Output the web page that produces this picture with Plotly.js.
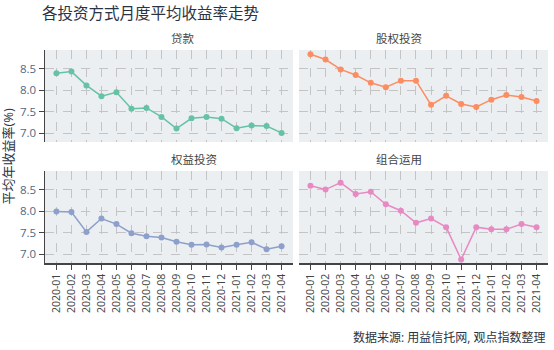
<!DOCTYPE html>
<html>
<head>
<meta charset="utf-8">
<script src="https://cdn.plot.ly/plotly-3.0.1.min.js"></script>
<style>html,body{margin:0;padding:0;background:#fff;}#chart{width:554px;height:350px;}</style>
</head>
<body>
<div id="chart"></div>
<script>
const months = ["2020-01","2020-02","2020-03","2020-04","2020-05","2020-06","2020-07","2020-08","2020-09","2020-10","2020-11","2020-12","2021-01","2021-02","2021-03","2021-04"];
const loans    = [8.39,8.43,8.11,7.86,7.95,7.57,7.59,7.38,7.11,7.35,7.38,7.34,7.12,7.18,7.17,7.01];
const equityInv= [8.83,8.71,8.48,8.35,8.17,8.07,8.22,8.22,7.66,7.87,7.68,7.61,7.78,7.89,7.84,7.75];
const rightsInv= [7.99,7.98,7.52,7.83,7.70,7.49,7.42,7.39,7.29,7.22,7.23,7.16,7.22,7.28,7.12,7.19];
const combined = [8.59,8.50,8.66,8.40,8.45,8.16,8.01,7.73,7.83,7.63,6.88,7.63,7.58,7.58,7.70,7.63];
const seriesNames = ["贷款","股权投资","权益投资","组合运用"];
const colors = ["#66c2a5","#fc8d62","#8da0cb","#e78ac3"];
const seriesData = [loans, equityInv, rightsInv, combined];

const font = "'Open Sans', 'Noto Sans CJK SC', sans-serif";
const axes = [["x","y"],["x2","y2"],["x3","y3"],["x4","y4"]];
const traces = seriesData.map((d,i)=>({
  x: months, y: d, type:"scatter", mode:"lines+markers",
  name: seriesNames[i], xaxis: axes[i][0], yaxis: axes[i][1],
  line:{color:colors[i], width:1.5}, marker:{color:colors[i], size:6},
  showlegend:false
}));

const xRange = [-0.76, 15.76];
const yRange = [6.8, 8.93];
function xa(domain, show){
  return {domain, type:"category", range:xRange, tickangle:-90,
    showgrid:true, gridcolor:"#c4c4c4", griddash:"dash", gridwidth:1,
    showline:show, linecolor:"#444", linewidth:1.5, ticks: show?"outside":"", ticklen:5, tickcolor:"#444",
    showticklabels:show, tickfont:{size:10.5, color:"#444", family:font}, zeroline:false};
}
function ya(domain, show){
  return {domain, range:yRange, tickvals:[7.0,7.5,8.0,8.5], ticktext:["7.0","7.5","8.0","8.5"],
    showgrid:true, gridcolor:"#c4c4c4", griddash:"dash", gridwidth:1,
    showline:show, linecolor:"#444", linewidth:1.5, ticks: show?"outside":"", ticklen:5, tickcolor:"#444",
    showticklabels:show, tickfont:{size:11.5, color:"#506784", family:font}, zeroline:false};
}
const xL=[0,0.493], xR=[0.505,1], yT=[0.568,1], yB=[0,0.432];
const layout = {
  width:554, height:350,
  margin:{l:45, r:6, t:50, b:87},
  paper_bgcolor:"#fff", plot_bgcolor:"#eceff1",
  font:{family:font, color:"#444"},
  title:{text:"各投资方式月度平均收益率走势", x:0.076, xanchor:"left", y:0.96, yanchor:"middle",
    font:{size:15.5, color:"#2a3344", family:font}},
  xaxis: Object.assign(xa(xL,false),{anchor:"y", matches:"x3"}),
  xaxis2: Object.assign(xa(xR,false),{anchor:"y2", matches:"x4"}),
  xaxis3: Object.assign(xa(xL,true),{anchor:"y3"}),
  xaxis4: Object.assign(xa(xR,true),{anchor:"y4"}),
  yaxis: Object.assign(ya(yT,true),{anchor:"x"}),
  yaxis2: Object.assign(ya(yT,false),{anchor:"x2"}),
  yaxis3: Object.assign(ya(yB,true),{anchor:"x3"}),
  yaxis4: Object.assign(ya(yB,false),{anchor:"x4"}),
  annotations:[
    {text:seriesNames[0], xref:"paper", yref:"paper", x:(xL[0]+xL[1])/2, y:yT[1], yanchor:"bottom", yshift:2, showarrow:false, font:{size:11.5,color:"#444"}},
    {text:seriesNames[1], xref:"paper", yref:"paper", x:(xR[0]+xR[1])/2, y:yT[1], yanchor:"bottom", yshift:2, showarrow:false, font:{size:11.5,color:"#444"}},
    {text:seriesNames[2], xref:"paper", yref:"paper", x:(xL[0]+xL[1])/2, y:yB[1], yanchor:"bottom", yshift:2, showarrow:false, font:{size:11.5,color:"#444"}},
    {text:seriesNames[3], xref:"paper", yref:"paper", x:(xR[0]+xR[1])/2, y:yB[1], yanchor:"bottom", yshift:2, showarrow:false, font:{size:11.5,color:"#444"}},
    {text:"平均年收益率(%)", xref:"paper", yref:"paper", x:0, xanchor:"center", xshift:-38, y:0.5, yanchor:"middle", textangle:-90, showarrow:false, font:{size:13,color:"#2a3344"}},
    {text:"数据来源: 用益信托网, 观点指数整理", xref:"paper", yref:"paper", x:1, xanchor:"right", y:0, yshift:-74, yanchor:"middle", showarrow:false, font:{size:12,color:"#2a3344"}}
  ]
};
Plotly.newPlot("chart", traces, layout, {displayModeBar:false, staticPlot:true});
</script>
</body>
</html>
